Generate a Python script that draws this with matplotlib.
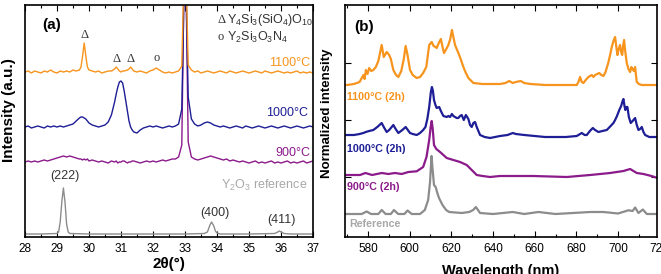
import matplotlib
matplotlib.use("Agg")
import matplotlib.pyplot as plt
from matplotlib.ticker import MultipleLocator
import matplotlib.transforms as mtransforms

plt.rcParams['font.family'] = ['Liberation Sans', 'DejaVu Sans']
plt.rcParams['mathtext.fontset'] = 'custom'
plt.rcParams['mathtext.rm'] = 'Liberation Sans'
plt.rcParams['mathtext.it'] = 'Liberation Sans:italic'
plt.rcParams['mathtext.bf'] = 'Liberation Sans:bold'

# ---------------- panel (a) XRD data (offset intensities) ----------------
two_theta = [28.0, 28.1, 28.2, 28.3, 28.4, 28.5, 28.6, 28.7, 28.8, 28.9,
             29.0, 29.1, 29.2, 29.3, 29.4, 29.5, 29.6, 29.7, 29.75, 29.8, 29.85, 29.9, 29.95,
             30.0, 30.1, 30.2, 30.3, 30.4, 30.5, 30.6, 30.7, 30.8, 30.85, 30.9, 30.95,
             31.0, 31.05, 31.1, 31.2, 31.25, 31.3, 31.35, 31.4, 31.5, 31.6, 31.7, 31.8, 31.9,
             32.0, 32.1, 32.2, 32.3, 32.4, 32.5, 32.6, 32.7, 32.8, 32.9, 32.95,
             33.0, 33.05, 33.1, 33.2, 33.3, 33.4, 33.5, 33.6, 33.7, 33.8, 33.9,
             34.0, 34.1, 34.2, 34.3, 34.4, 34.5, 34.6, 34.7, 34.8, 34.9,
             35.0, 35.1, 35.2, 35.3, 35.4, 35.5, 35.6, 35.7, 35.8, 35.9,
             36.0, 36.1, 36.2, 36.3, 36.4, 36.5, 36.6, 36.7, 36.8, 36.9,
             37.0]

xrd_1100 = [165, 166, 164, 166, 165, 164, 166, 165, 167, 165,
            164, 166, 165, 166, 165, 167, 166, 167, 170, 181, 194, 181, 170,
            167, 166, 165, 166, 164, 165, 166, 166, 168, 170, 168, 166,
            165, 166, 166, 167, 168, 170, 168, 166, 165, 166, 165, 164, 166,
            167, 169, 167, 165, 164, 165, 164, 165, 166, 171, 240,
            330, 240, 172, 167, 165, 166, 164, 165, 166, 165, 164,
            165, 166, 165, 164, 166, 165, 164, 165, 166, 165,
            164, 165, 166, 165, 164, 166, 165, 164, 165, 166,
            165, 164, 165, 164, 165, 166, 164, 165, 164, 165,
            164]

xrd_1000 = [110, 111, 109, 110, 111, 110, 109, 111, 110, 111,
            110, 111, 110, 111, 112, 113, 116, 119, 120, 120, 119, 118, 116,
            114, 112, 111, 110, 111, 112, 115, 122, 135, 143, 150, 155,
            156, 154, 146, 126, 116, 110, 107, 105, 104, 107, 109, 110, 111,
            110, 111, 110, 109, 110, 111, 110, 111, 113, 128, 210,
            330, 220, 140, 118, 113, 111, 112, 114, 115, 114, 112,
            111, 110, 111, 110, 109, 110, 111, 110, 109, 111,
            110, 109, 110, 111, 110, 109, 110, 111, 110, 109,
            110, 111, 110, 109, 110, 111, 110, 109, 110, 111,
            110]

xrd_900 = [75, 76, 75, 76, 75, 76, 77, 76, 77, 78,
           79, 80, 81, 80, 81, 80, 79, 78, 78, 77, 78, 77, 78,
           76, 77, 76, 75, 76, 75, 74, 76, 75, 76, 74, 75,
           75, 76, 76, 74, 75, 75, 76, 76, 75, 74, 75, 76, 75,
           76, 75, 76, 77, 76, 77, 78, 78, 80, 92, 210,
           330, 210, 95, 80, 78, 77, 78, 79, 80, 81, 80,
           79, 78, 77, 78, 76, 77, 76, 75, 76, 75,
           74, 75, 76, 74, 75, 74, 75, 76, 74, 75,
           74, 75, 76, 74, 75, 74, 75, 76, 74, 75,
           76]

ref_theta = [28.0, 28.5, 29.0, 29.05, 29.1, 29.15, 29.2, 29.25, 29.3, 29.35, 29.4,
             30.0, 31.0, 32.0, 33.0, 33.6, 33.7, 33.78, 33.83, 33.9, 33.95, 34.0, 34.1,
             35.0, 35.8, 35.9, 35.95, 36.0, 36.1, 36.3, 37.0]
xrd_ref = [3, 3, 3.5, 5, 15, 35, 49, 35, 13, 5, 3.5,
           3, 3, 3, 3, 3.5, 5, 12, 15, 11, 6, 4, 3,
           3, 3.5, 5, 6, 5, 3.5, 3, 3]

# ---------------- panel (b) PL data (offset, normalized) ----------------
wl_1100 = [566, 570, 573.3, 576, 577.8, 578.4, 579, 579.8, 580.6, 581.6, 582.6, 583.8, 585,
           586.6, 587.6, 589, 590.2, 591, 592.2, 593.5, 594.6, 596, 597.2, 598.1, 599,
           600.2, 601.5, 603.4, 605, 606.5, 608, 609.4, 610.6, 611.5, 612.4, 613, 614, 615,
           615.8, 616.5, 617.6, 618.6, 619.5, 620.3, 621, 621.8, 622.6, 623.4, 624.5, 625.8,
           627, 628.2, 630.6, 635, 640, 643.4, 646, 647.8, 649.5, 651, 653.3, 655, 658, 665,
           672, 680.2, 681, 681.8, 682.6, 683.4, 684.5, 685.8, 686.6, 687.4, 688.2, 689, 690,
           691, 692, 693, 694, 695.3, 696.2, 697, 697.8, 698.6, 699.2, 699.7, 700.3, 701,
           701.5, 702, 702.5, 702.9, 703.5, 704.2, 705, 705.8, 706.4, 707, 707.6, 708.2,
           708.6, 709, 710, 711.4, 715, 719]
pl_1100 = [152, 152, 153, 155, 162, 158, 167, 163, 169, 166, 167, 170, 176,
           192, 180, 185, 182, 178, 167, 162, 160, 166, 178, 191, 182,
           167, 162, 159, 160, 164, 170, 192, 195, 191, 190, 189, 194, 198,
           190, 184, 188, 192, 198, 207, 200, 192, 188, 184, 178, 170,
           164, 159, 154, 153, 153, 153, 154, 156, 154, 155, 156, 154, 153, 152,
           152, 152, 155, 160, 155, 154, 157, 160, 161, 162, 160, 162, 163,
           164, 162, 161, 165, 174, 182, 190, 196, 200, 190, 182, 188, 192,
           185, 182, 192, 197, 185, 174, 168, 165, 170, 168, 166, 170,
           162, 155, 153, 152, 152, 152]

wl_1000 = [566, 570, 573.3, 576, 577.8, 579, 580.6, 582.6, 584.5, 586.6, 587.6, 589, 590.2,
           592.2, 593.3, 594.6, 596.5, 598.1, 599.5, 600.2, 601.5, 603.4, 605, 606.5, 607.6,
           608.5, 609.4, 610.2, 610.7, 611.2, 611.7, 612.4, 613, 614.2, 615, 616.2, 617.8,
           618.6, 619.4, 620.3, 621, 621.8, 622.6, 623.4, 624.2, 625, 626, 627, 628.2, 629,
           629.8, 630.6, 631.4, 632.2, 633.8, 636, 638.6, 643.4, 647, 649.5, 651, 655, 665,
           675, 680.2, 682.6, 684, 685, 686.5, 687.9, 689, 690.6, 692.5, 694.6, 696, 697.8,
           698.6, 699.5, 700.6, 701.5, 702.2, 702.6, 703.1, 703.5, 704, 704.5, 705.2, 706.1,
           707, 708.2, 709, 709.8, 710.6, 711.4, 712.2, 713, 715, 719]
pl_1000 = [102, 102, 102, 103, 104, 105, 106, 107, 110, 114, 110, 105, 107,
           112, 108, 104, 107, 110, 106, 104, 103, 102, 104, 107, 110,
           118, 130, 145, 150, 146, 137, 132, 129, 130, 126, 121, 120,
           121, 120, 123, 121, 120, 119, 119, 121, 122, 117, 122, 118, 112,
           110, 114, 115, 110, 102, 100, 99, 101, 102, 104, 103, 102, 100,
           100, 101, 104, 102, 102, 106, 109, 107, 105, 106, 107, 110, 114,
           117, 121, 127, 131, 136, 138, 131, 127, 130, 130, 120, 114,
           116, 119, 112, 107, 108, 110, 105, 102, 100, 100]

wl_900 = [566, 570, 576.2, 578.8, 582, 586.6, 589.8, 593, 596.2, 599.4, 603.4, 606.5,
          608.1, 609.4, 610.1, 610.6, 611.1, 611.7, 612.8, 614.6, 617.8, 621, 624.2, 627.4,
          629.8, 632.2, 635, 638.6, 643.4, 659.4, 675.4, 686.6, 696.2, 702.6, 705.8, 709,
          712.2, 716, 719]
pl_900 = [62, 62, 62, 64, 62, 64, 63, 64, 63, 65, 65.7, 70,
          80, 97, 110, 116, 108, 92, 88, 85, 79, 77, 75, 72,
          67, 62, 61, 60, 61, 61, 60, 62, 64, 66, 68, 64,
          63, 61, 59]

wl_ref = [566, 570, 577, 579.4, 581.5, 585, 586.6, 588.5, 591, 592.5, 594.5, 597.5, 599,
          601, 605, 607.3, 608.9, 609.8, 610.5, 611.1, 611.7, 612.5, 613.3, 614.1, 615.8,
          617.5, 619, 625, 628.6, 630.5, 631.8, 633.8, 640, 649.5, 655, 661.8, 670, 686.6,
          693, 700, 705, 707, 708.2, 709.8, 711, 711.9, 713.8, 719]
pl_ref = [23, 23, 23, 25.5, 23, 23, 27, 23, 23, 27, 23, 23, 26.5,
          23, 23, 27, 37, 55, 81, 66, 52, 50, 44, 39, 32,
          27, 25, 24, 25, 27, 30, 24, 23, 25, 23, 25, 23, 25,
          25, 23.5, 26.7, 26, 29.5, 24, 26, 27.5, 23, 23]

orange = '#F7941D'
blue = '#1E1E96'
purple = '#8B1A8B'
gray = '#8C8C8C'
lightgray = '#A8A8A8'

fig = plt.figure(figsize=(6.61, 2.74), dpi=100)
axa = fig.add_axes([25/661, 37/274, 288/661, 232/274])
axb = fig.add_axes([345/661, 37/274, 312/661, 232/274])

# ---- panel (a) ----
axa.plot(ref_theta, xrd_ref, color=gray, lw=1.0)
axa.plot(two_theta, xrd_900, color=purple, lw=1.0)
axa.plot(two_theta, xrd_1000, color=blue, lw=1.0)
axa.plot(two_theta, xrd_1100, color=orange, lw=1.0)
axa.set_xlim(28, 37)
axa.set_ylim(0, 232)
axa.set_yticks([])
axa.xaxis.set_major_locator(MultipleLocator(1))
axa.xaxis.set_minor_locator(MultipleLocator(0.5))
axa.tick_params(axis='x', which='both', direction='in', top=True, labelsize=8.5, pad=4)
axa.tick_params(axis='x', which='major', length=4, width=0.8)
axa.tick_params(axis='x', which='minor', length=2.5, width=0.8)
for s in axa.spines.values():
    s.set_linewidth(1.2)
axa.set_xlabel('2θ(°)', fontsize=11, fontweight='bold', labelpad=2)

axa.text(28.55, 212, '(a)', fontsize=11, fontweight='bold', ha='left', va='center')
serif = ['Liberation Serif', 'DejaVu Serif']
for xm, ym, sym in [(29.85, 202, 'Δ'), (30.85, 178, 'Δ'), (31.3, 178, 'Δ'), (32.1, 179, 'o')]:
    axa.text(xm, ym, sym, fontsize=9, family=serif, ha='center', va='center', color='#333333')
axa.text(34.0, 217, 'Δ', fontsize=9, family=serif, ha='left', va='center', color='#333333')
axa.text(34.3, 217, 'Y$_4$Si$_3$(SiO$_4$)O$_{10}$', fontsize=9, ha='left', va='center', color='#333333')
axa.text(34.0, 200, 'o', fontsize=9, family=serif, ha='left', va='center', color='#333333')
axa.text(34.3, 200, 'Y$_2$Si$_3$O$_3$N$_4$', fontsize=9, ha='left', va='center', color='#333333')

axa.text(36.92, 174, '1100°C', fontsize=9, color=orange, ha='right', va='center')
axa.text(36.86, 124, '1000°C', fontsize=9, color=blue, ha='right', va='center')
axa.text(36.92, 84, '900°C', fontsize=9, color=purple, ha='right', va='center')
axa.text(36.82, 52, 'Y$_2$O$_3$ reference', fontsize=9, color=lightgray, ha='right', va='center')
axa.text(29.25, 61, '(222)', fontsize=9, color='#333333', ha='center', va='center')
axa.text(33.94, 24, '(400)', fontsize=9, color='#333333', ha='center', va='center')
axa.text(36.0, 17, '(411)', fontsize=9, color='#333333', ha='center', va='center')

fig.text(9/661, 1 - 110/274, 'Intensity (a.u.)', rotation=90, fontsize=11,
         fontweight='bold', ha='center', va='center')

# ---- panel (b) ----
axb.plot(wl_ref, pl_ref, color=gray, lw=1.6)
axb.plot(wl_900, pl_900, color=purple, lw=1.6)
axb.plot(wl_1000, pl_1000, color=blue, lw=1.6)
axb.plot(wl_1100, pl_1100, color=orange, lw=1.6)
axb.set_xlim(569, 718.7)
axb.set_ylim(0, 232)
axb.set_yticks([60, 117, 174])
axb.set_yticklabels([])
axb.xaxis.set_major_locator(MultipleLocator(20))
axb.xaxis.set_minor_locator(MultipleLocator(10))
axb.tick_params(axis='both', which='both', direction='in', top=True, right=True,
                labelsize=8.5, pad=4)
axb.tick_params(axis='both', which='major', length=4, width=0.8)
axb.tick_params(axis='x', which='minor', length=2.5, width=0.8)
for s in axb.spines.values():
    s.set_linewidth(1.2)
axb.set_xlabel('Wavelength (nm)', fontsize=10.5, fontweight='bold', labelpad=7)
trans = mtransforms.blended_transform_factory(axb.transData, axb.transAxes)
axb.text(720, -0.025, '720', transform=trans, fontsize=8.5, ha='center', va='top',
         clip_on=False)

axb.text(573.5, 210, '(b)', fontsize=11, fontweight='bold', ha='left', va='center')
axb.text(570, 140, '1100°C (2h)', fontsize=7.7, fontweight='bold', color=orange, ha='left', va='center')
axb.text(570, 88, '1000°C (2h)', fontsize=7.7, fontweight='bold', color=blue, ha='left', va='center')
axb.text(570, 50, '900°C (2h)', fontsize=7.7, fontweight='bold', color=purple, ha='left', va='center')
axb.text(571, 13, 'Reference', fontsize=7.7, fontweight='bold', color=lightgray, ha='left', va='center')

fig.text(327/661, 1 - 113/274, 'Normalized intensity', rotation=90, fontsize=9.5,
         fontweight='bold', ha='center', va='center')

fig.savefig('out.png', dpi=100)
